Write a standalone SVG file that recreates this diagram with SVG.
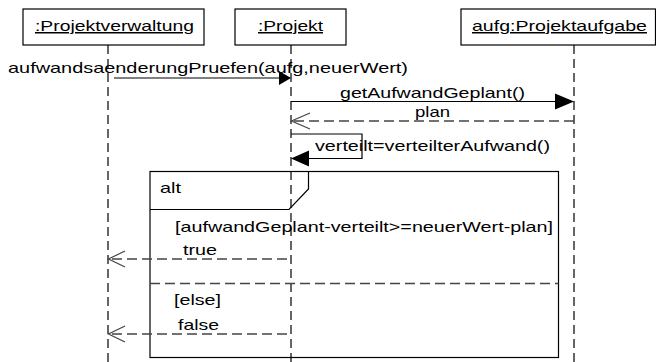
<svg xmlns="http://www.w3.org/2000/svg" width="656" height="362" viewBox="0 0 656 362">
<defs>
<style>
text{font-family:"Liberation Sans",Arial,sans-serif;font-size:15px;fill:#000}
.box{fill:#fff;stroke:#000;stroke-width:1.2}
.life{stroke:#000;stroke-width:1.2;stroke-dasharray:9 5;fill:none}
.msg{stroke:#000;stroke-width:1.2;fill:none}
.ret{stroke:#444;stroke-width:1.4;stroke-dasharray:10 5;fill:none}
.open{stroke:#444;stroke-width:1.2;fill:none}
.head{fill:#000;stroke:none}
.frame{fill:none;stroke:#000;stroke-width:1.2}
.sep{stroke:#444;stroke-width:1.4;stroke-dasharray:10 5;fill:none}
</style>
</defs>
<rect width="656" height="362" fill="#fff"/>
<g id="lifelines">
<line class="life" x1="108" y1="45" x2="108" y2="362"/>
<line class="life" x1="291" y1="45" x2="291" y2="362"/>
<line class="life" x1="574" y1="45" x2="574" y2="362"/>
</g>
<g id="node-projektverwaltung">
<rect class="box" x="23" y="9" width="181" height="36"/>
<text x="35" y="31" textLength="159" lengthAdjust="spacingAndGlyphs" text-decoration="underline">:Projektverwaltung</text>
</g>
<g id="node-projekt">
<rect class="box" x="235" y="9" width="111" height="36"/>
<text x="258" y="31" textLength="65" lengthAdjust="spacingAndGlyphs" text-decoration="underline">:Projekt</text>
</g>
<g id="node-projektaufgabe">
<rect class="box" x="461" y="9" width="194.5" height="36"/>
<text x="472" y="31" textLength="175" lengthAdjust="spacingAndGlyphs" text-decoration="underline">aufg:Projektaufgabe</text>
</g>
<g id="alt-frame">
<rect class="frame" x="150" y="171.5" width="408.5" height="186"/>
<path class="frame" d="M150,209.5 H289 L308.5,189 V171.5"/>
<line class="sep" x1="150" y1="283.5" x2="558.5" y2="283.5"/>
<text x="160" y="193" textLength="21" lengthAdjust="spacingAndGlyphs">alt</text>
<text x="175" y="231.5" textLength="378" lengthAdjust="spacingAndGlyphs">[aufwandGeplant-verteilt&gt;=neuerWert-plan]</text>
<text x="174" y="305" textLength="47" lengthAdjust="spacingAndGlyphs">[else]</text>
</g>
<g id="connectors">
<line class="msg" x1="114" y1="78" x2="280" y2="78"/>
<polygon class="head" points="291,78 279,71 279,85"/>
<text x="8" y="73" textLength="400" lengthAdjust="spacingAndGlyphs">aufwandsaenderungPruefen(aufg,neuerWert)</text>

<line class="msg" x1="291" y1="101.5" x2="556" y2="101.5"/>
<polygon class="head" points="574,101.5 555,93.5 555,109.5"/>
<text x="340" y="98" textLength="185" lengthAdjust="spacingAndGlyphs">getAufwandGeplant()</text>

<line class="ret" x1="574" y1="121" x2="292" y2="121"/>
<polyline class="open" points="310,113 291.5,121 310,129"/>
<text x="415" y="117" textLength="35" lengthAdjust="spacingAndGlyphs">plan</text>

<polyline class="msg" points="291,134 362,134 362,158.5 308,158.5"/>
<polygon class="head" points="291,158.5 309,150.5 309,166.5"/>
<text x="315" y="151" textLength="235" lengthAdjust="spacingAndGlyphs">verteilt=verteilterAufwand()</text>

<line class="ret" x1="287" y1="259" x2="109" y2="259"/>
<polyline class="open" points="125,251 108.5,259 125,267"/>
<text x="183" y="255" textLength="34" lengthAdjust="spacingAndGlyphs">true</text>

<line class="ret" x1="287" y1="334" x2="109" y2="334"/>
<polyline class="open" points="125,326 108.5,334 125,342"/>
<text x="178" y="330" textLength="41" lengthAdjust="spacingAndGlyphs">false</text>
</g>
</svg>
